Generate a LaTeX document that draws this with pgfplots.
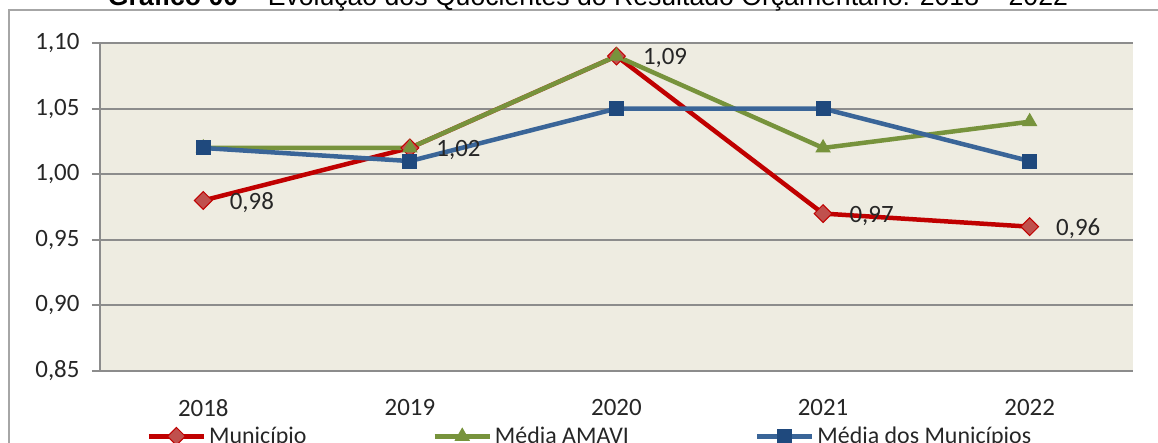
\documentclass[border=0pt]{standalone}
\usepackage{fontspec}
\setmainfont{Carlito}
\newfontfamily\arialfont{Liberation Sans}
\usepackage{graphicx}
\usepackage{pgfplots}
\pgfplotsset{compat=1.18}
\definecolor{bgc}{HTML}{EEECE1}
\definecolor{gridc}{HTML}{8C8C8C}
\definecolor{redl}{HTML}{C00000}
\definecolor{redm}{HTML}{C0504D}
\definecolor{greenl}{HTML}{77933C}
\definecolor{bluel}{HTML}{3A6598}
\definecolor{bluem}{HTML}{1F497D}
\definecolor{framec}{HTML}{A6A6A6}
\definecolor{txt}{HTML}{262626}
\begin{document}
\begin{tikzpicture}
\path[use as bounding box] (0bp,0bp) rectangle (1158bp,443bp);
\draw[framec, line width=1.5bp] (9bp,-30bp) -- (9bp,433bp) -- (1200bp,433bp);
\node[anchor=base, inner sep=0pt] at (588bp,437bp) {\resizebox{960bp}{!}{\arialfont\fontsize{22}{26}\selectfont\textbf{Gráfico 00} – Evolução dos Quocientes do Resultado Orçamentário: 2018 – 2022}};
\begin{axis}[
  at={(100bp,72bp)}, anchor=south west,
  width=1033bp, height=328bp, scale only axis,
  xmin=-0.5, xmax=4.5, ymin=0.85, ymax=1.10,
  xtick={0,1,2,3,4}, xticklabels={2018,2019,2020,2021,2022},
  ytick={0.85,0.9,0.95,1,1.05,1.1},
  /pgf/number format/assume math mode=true,
  ymajorgrids, grid style={gridc, line width=2bp},
  axis background/.style={fill=bgc},
  axis x line*=bottom, axis y line*=left,
  axis line style={gridc, line width=2bp},
  tick align=outside,
  major tick length=8bp,
  xtick style={draw=none},
  ytick style={gridc, line width=2bp},
  tick label style={font=\fontsize{25}{30}\selectfont, text=txt},
  yticklabel style={xshift=-9bp, /pgf/number format/.cd, fixed, fixed zerofill, precision=2, use comma},
  xticklabel style={yshift=-17bp},
  legend columns=3,
  legend style={at={(0.045,-0.165)}, anchor=north west, draw=none, fill=none,
    font=\fontsize{24}{29}\selectfont, text=txt, inner sep=0pt,
    /tikz/every even column/.append style={column sep=123bp},
    nodes={inner xsep=3bp}},
  legend image code/.code={\draw[mark repeat=2, mark phase=2] plot coordinates {(0bp,0bp) (27.5bp,0bp) (55bp,0bp)};},
]
\addplot[redl, line width=4.5bp, mark=square*, mark size=6.3bp,
  mark options={rotate=45, fill=redm, draw=redl, line width=1bp}]
  coordinates {(0,0.98) (1,1.02) (2,1.09) (3,0.97) (4,0.96)};
\addlegendentry{Município}
\addplot[greenl, line width=4.5bp, mark=triangle*, mark size=8bp,
  mark options={fill=greenl, draw=greenl, line width=1bp}]
  coordinates {(0,1.02) (1,1.02) (2,1.09) (3,1.02) (4,1.04)};
\addlegendentry{Média AMAVI}
\addplot[bluel, line width=4.5bp, mark=square*, mark size=7bp,
  mark options={fill=bluem, draw=bluem, line width=1bp}]
  coordinates {(0,1.02) (1,1.01) (2,1.05) (3,1.05) (4,1.01)};
\addlegendentry{Média dos Municípios}
\addplot[draw=none, mark=none, forget plot, point meta=y,
  nodes near coords,
  nodes near coords style={anchor=west, xshift=23bp, yshift=-2bp, text=txt,
    font=\fontsize{25}{30}\selectfont,
    /pgf/number format/.cd, fixed, fixed zerofill, precision=2, use comma}]
  coordinates {(0,0.98) (1,1.02) (2,1.09) (3,0.97) (4,0.96)};
\end{axis}
\end{tikzpicture}
\end{document}
